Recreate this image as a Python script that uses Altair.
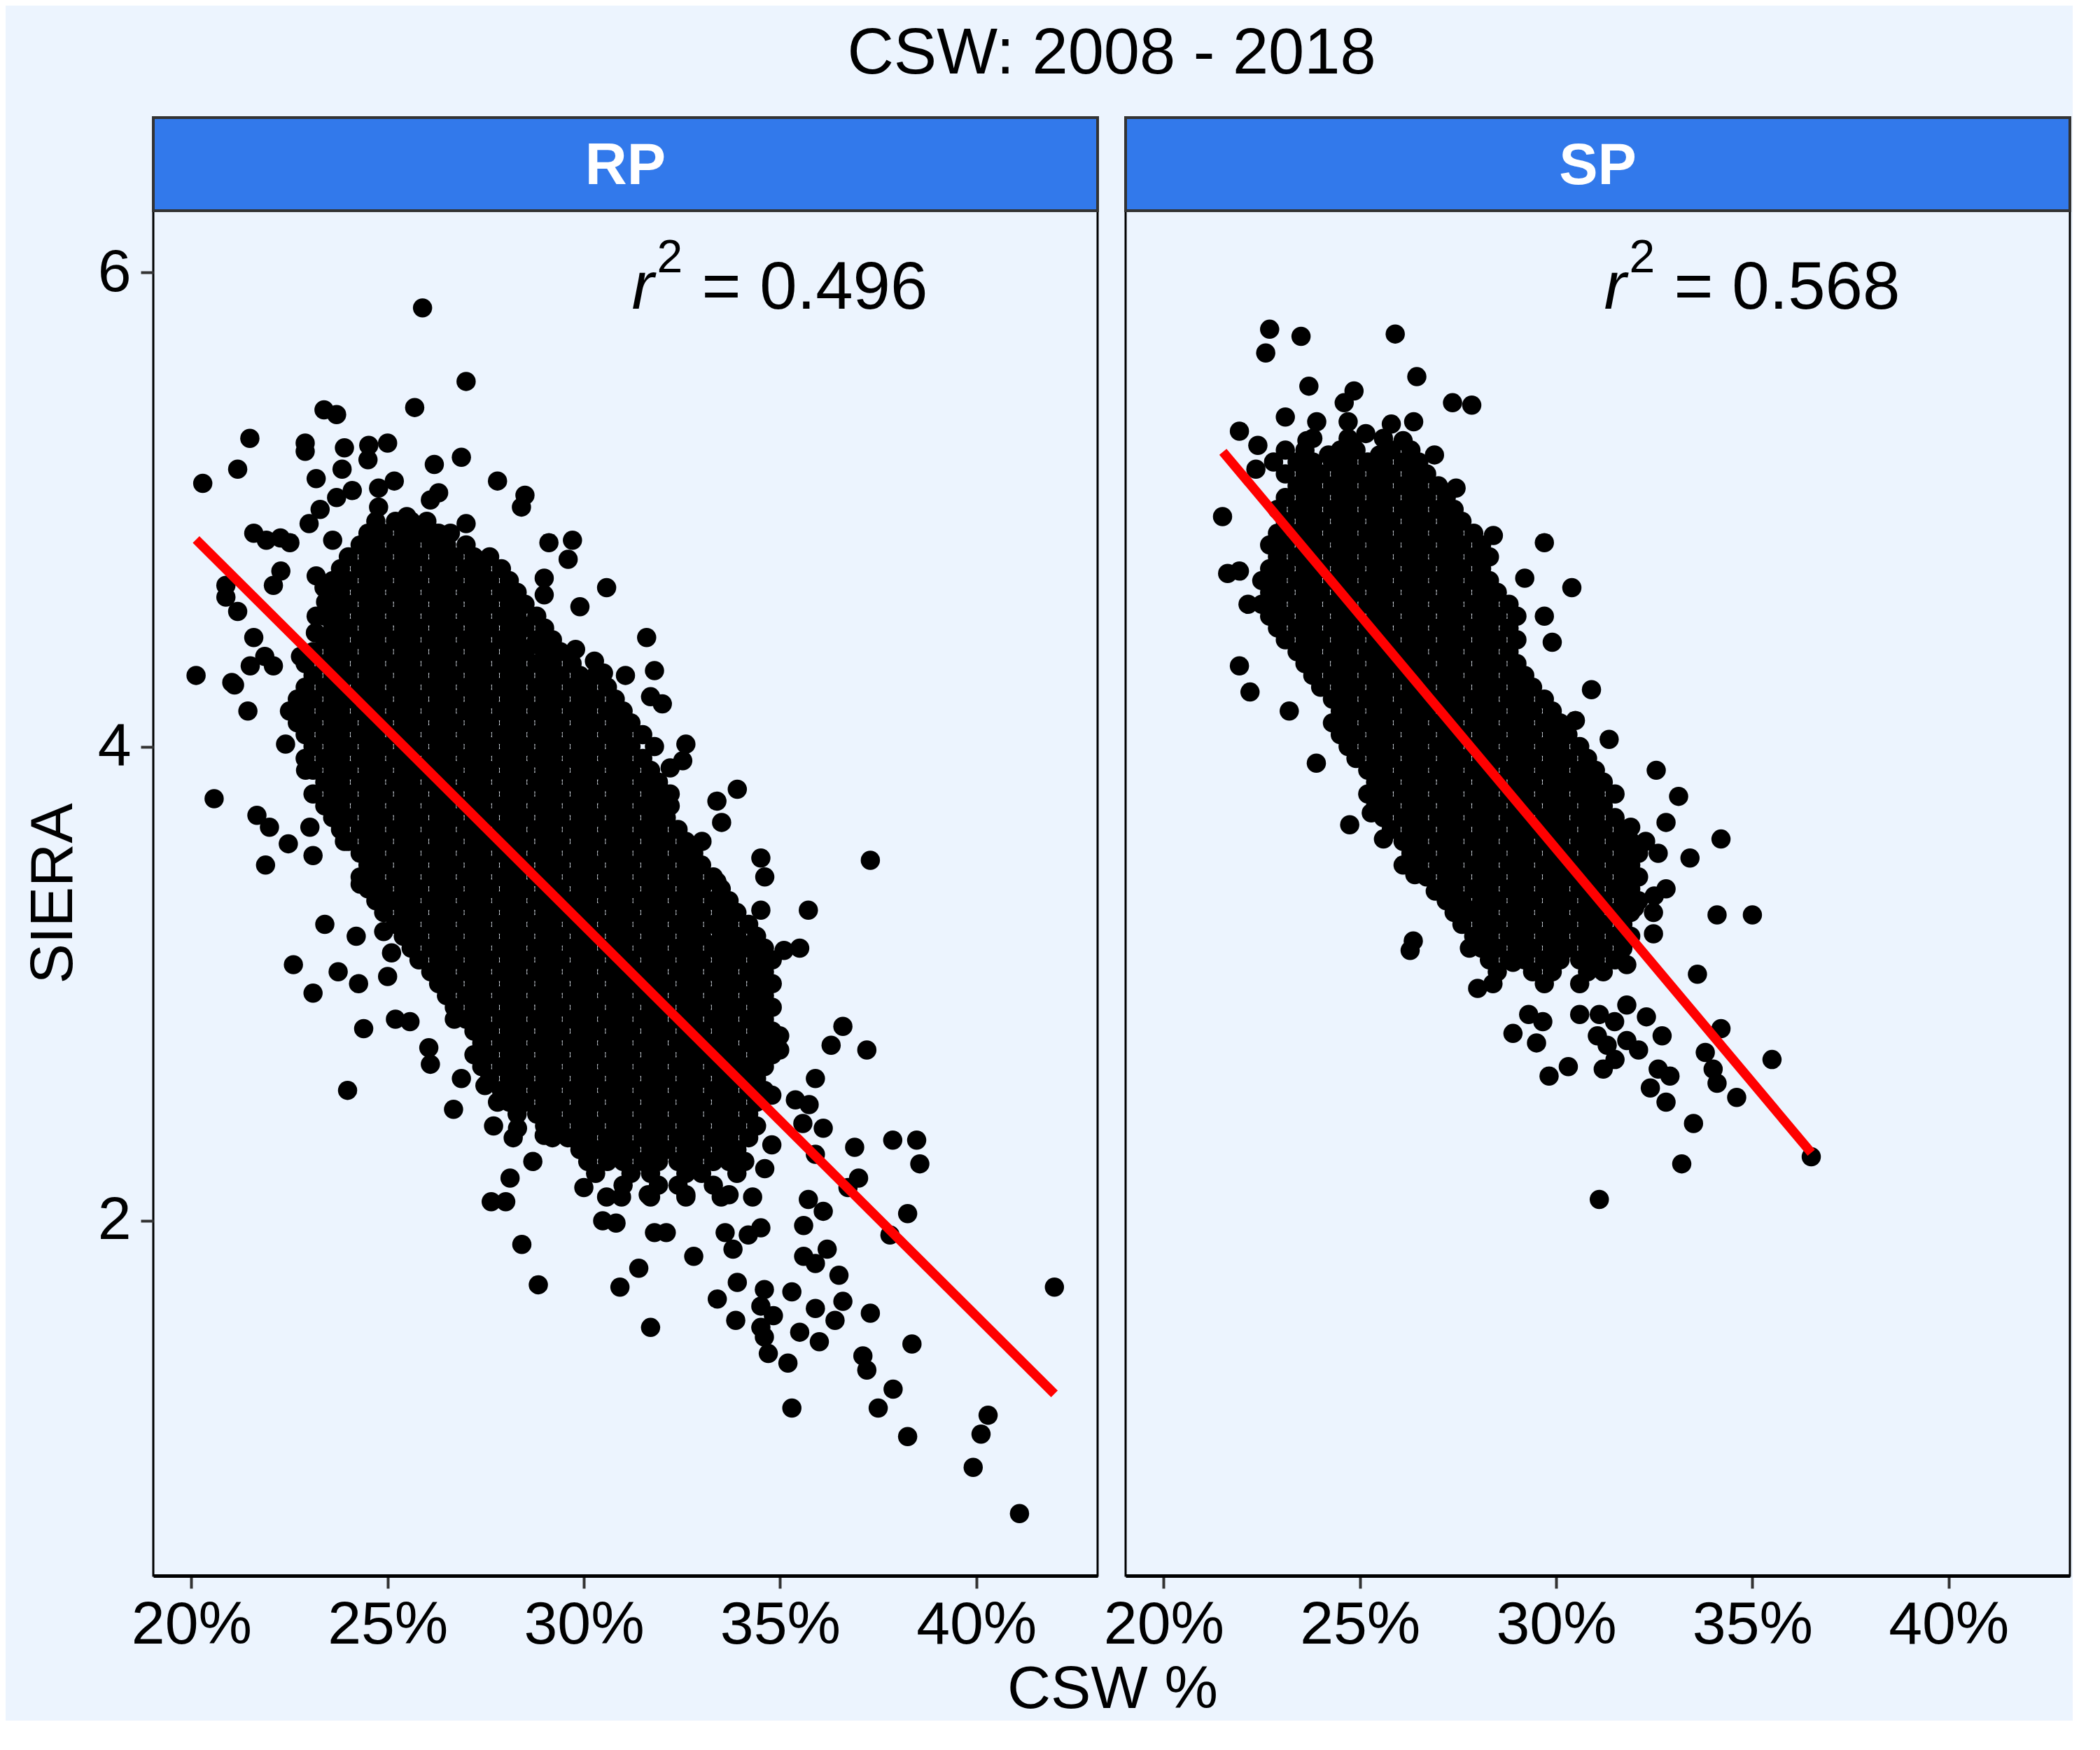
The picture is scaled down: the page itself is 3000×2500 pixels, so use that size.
import altair as alt
import pandas as pd

# ---------------- data ----------------
# RP: isolated / edge points (CSW %, SIERA)
rp_outer = [
    (25.89, 5.85), (27.0, 5.54), (25.69, 5.43), (23.38, 5.42), (23.7, 5.40), (21.49, 5.30),
    (21.18, 5.17), (20.29, 5.11), (22.9, 5.28), (22.9, 5.245), (23.9, 5.26), (24.52, 5.27),
    (25.0, 5.28), (24.5, 5.21), (23.84, 5.17), (23.18, 5.13), (26.19, 5.19), (26.88, 5.22),
    (27.8, 5.12), (28.5, 5.06), (28.41, 5.01), (24.1, 5.08), (23.7, 5.05), (23.28, 5.0),
    (23.0, 4.94), (24.77, 5.09), (25.17, 5.12), (24.77, 5.01), (26.3, 5.07), (26.09, 5.04),
    (25.49, 4.97), (25.71, 4.92), (26.2, 4.90), (27.0, 4.94), (29.11, 4.86), (29.71, 4.87),
    (29.6, 4.79), (21.59, 4.90), (21.91, 4.87), (22.27, 4.88), (22.51, 4.86), (23.6, 4.87),
    (22.28, 4.74), (22.09, 4.68), (20.88, 4.68), (20.88, 4.63), (21.18, 4.57), (21.59, 4.46),
    (28.99, 4.71), (28.99, 4.64), (30.58, 4.67), (29.9, 4.59), (28.3, 4.60), (28.46, 4.51),
    (20.12, 4.30), (21.1, 4.26), (21.5, 4.34), (21.87, 4.38), (22.09, 4.34), (22.78, 4.38),
    (23.18, 4.72), (23.38, 4.67), (23.42, 4.61), (23.18, 4.55), (23.16, 4.48), (31.06, 4.30),
    (30.5, 4.31), (30.27, 4.36), (29.79, 4.41), (29.07, 4.44), (28.75, 4.43), (31.6, 4.46),
    (31.8, 4.32), (31.7, 4.21), (21.03, 4.27), (21.44, 4.15), (22.4, 4.01), (22.91, 3.9),
    (20.58, 3.78), (21.67, 3.71), (21.99, 3.66), (22.47, 3.59), (21.89, 3.50), (23.02, 3.66),
    (23.1, 3.54), (23.9, 3.60), (24.3, 3.42), (24.77, 3.36), (23.4, 3.25), (24.2, 3.20),
    (24.9, 3.22), (23.74, 3.05), (24.26, 3.0), (23.1, 2.96), (25.1, 3.13), (25.0, 3.03),
    (24.39, 2.81), (25.2, 2.85), (25.57, 2.84), (26.05, 2.73), (26.09, 2.66), (26.88, 2.60),
    (26.68, 2.47), (27.48, 2.57), (27.8, 2.50), (23.98, 2.55), (27.7, 2.40), (28.31, 2.39),
    (28.2, 2.35), (28.7, 2.25), (28.99, 2.36), (29.59, 2.35), (28.12, 2.18), (30.5, 2.30),
    (30.0, 2.14), (22.6, 3.08),
    (28.84, 1.73), (28.42, 1.9), (27.64, 2.08), (28.01, 2.08), (30.58, 2.1), (30.96, 2.1),
    (30.48, 2.0), (30.82, 1.99), (30.92, 1.72),
    (32.0, 4.18), (32.6, 4.01), (31.8, 4.0), (32.52, 3.94), (32.2, 3.91), (33.91, 3.82),
    (33.39, 3.77), (33.51, 3.68), (33.01, 3.60), (32.2, 3.80), (34.51, 3.53), (34.61, 3.45),
    (37.3, 3.52), (33.39, 3.43), (34.51, 3.31), (35.72, 3.31), (34.0, 3.17), (33.39, 3.17),
    (35.1, 3.14), (35.5, 3.15), (34.51, 3.06), (34.71, 3.0), (34.57, 2.87), (34.99, 2.78),
    (34.99, 2.72), (34.63, 2.72), (36.6, 2.82), (36.3, 2.74), (37.21, 2.72), (35.9, 2.60),
    (34.1, 2.64), (34.31, 2.61), (34.79, 2.53), (35.39, 2.51), (35.74, 2.49), (35.58, 2.41),
    (36.1, 2.39), (37.87, 2.34), (38.48, 2.34), (38.56, 2.24), (36.9, 2.31), (35.9, 2.28),
    (34.79, 2.32), (34.61, 2.22), (37.0, 2.18),
    (36.73, 2.14), (34.3, 2.10), (33.7, 2.11), (32.6, 2.11), (31.64, 2.11), (38.25, 2.03),
    (35.72, 2.09), (36.1, 2.04), (35.6, 1.98), (37.8, 1.94), (36.2, 1.88), (35.6, 1.85),
    (35.9, 1.82), (36.5, 1.77), (31.8, 1.95), (32.1, 1.95), (33.6, 1.95), (34.19, 1.94),
    (34.51, 1.97), (33.8, 1.88), (32.8, 1.85), (31.4, 1.80), (33.91, 1.74), (34.6, 1.71),
    (33.4, 1.67), (35.3, 1.70), (35.9, 1.63), (36.6, 1.66), (34.51, 1.64), (34.83, 1.60),
    (33.87, 1.58), (34.51, 1.55), (36.4, 1.58), (37.3, 1.61), (35.5, 1.53), (36.0, 1.49),
    (34.6, 1.51), (34.7, 1.44), (35.2, 1.40), (31.7, 1.55), (38.36, 1.48), (37.11, 1.43),
    (37.21, 1.37), (37.88, 1.29), (37.5, 1.21), (35.3, 1.21), (38.25, 1.09), (40.3, 1.18),
    (40.12, 1.10), (39.92, 0.96), (41.1, 0.765), (41.99, 1.72),
]

# RP: the dense core, read row by row (SIERA, [CSW % values along the row])
rp_core = [
    (4.95, [24.7, 25.2, 25.6, 26.0]),
    (4.90, [24.5, 24.9, 25.4, 25.8, 26.3, 26.6]),
    (4.85, [24.3, 24.7, 25.2, 25.6, 26.1, 26.5, 27.0]),
    (4.80, [24.0, 24.5, 24.9, 25.4, 25.8, 26.3, 26.7, 27.2, 27.6]),
    (4.75, [23.8, 24.3, 24.7, 25.2, 25.6, 26.1, 26.5, 27.0, 27.4, 27.9]),
    (4.70, [23.6, 24.0, 24.5, 24.9, 25.4, 25.8, 26.3, 26.7, 27.2, 27.6, 28.1]),
    (4.65, [23.8, 24.3, 24.7, 25.2, 25.6, 26.1, 26.5, 27.0, 27.4, 27.9, 28.3]),
    (4.60, [23.6, 24.0, 24.5, 24.9, 25.4, 25.8, 26.3, 26.7, 27.2, 27.6, 28.1, 28.5]),
    (4.55, [23.4, 23.8, 24.3, 24.7, 25.2, 25.6, 26.1, 26.5, 27.0, 27.4, 27.9, 28.3, 28.8]),
    (4.50, [23.6, 24.0, 24.5, 24.9, 25.4, 25.8, 26.3, 26.7, 27.2, 27.6, 28.1, 28.5, 29.0]),
    (4.45, [23.4, 23.8, 24.3, 24.7, 25.2, 25.6, 26.1, 26.5, 27.0, 27.4, 27.9, 28.3, 28.8, 29.2]),
    (4.40, [23.1, 23.6, 24.0, 24.5, 24.9, 25.4, 25.8, 26.3, 26.7, 27.2, 27.6, 28.1, 28.5, 29.0, 29.4]),
    (4.35, [22.9, 23.4, 23.8, 24.3, 24.7, 25.2, 25.6, 26.1, 26.5, 27.0, 27.4, 27.9, 28.3, 28.8, 29.2, 29.7]),
    (4.30, [23.1, 23.6, 24.0, 24.5, 24.9, 25.4, 25.8, 26.3, 26.7, 27.2, 27.6, 28.1, 28.5, 29.0, 29.4, 29.9, 30.3]),
    (4.25, [22.9, 23.4, 23.8, 24.3, 24.7, 25.2, 25.6, 26.1, 26.5, 27.0, 27.4, 27.9, 28.3, 28.8, 29.2, 29.7, 30.1, 30.6]),
    (4.20, [22.7, 23.1, 23.6, 24.0, 24.5, 24.9, 25.4, 25.8, 26.3, 26.7, 27.2, 27.6, 28.1, 28.5, 29.0, 29.4, 29.9, 30.3, 30.8]),
    (4.15, [22.5, 22.9, 23.4, 23.8, 24.3, 24.7, 25.2, 25.6, 26.1, 26.5, 27.0, 27.4, 27.9, 28.3, 28.8, 29.2, 29.7, 30.1, 30.6, 31.0]),
    (4.10, [22.7, 23.1, 23.6, 24.0, 24.5, 24.9, 25.4, 25.8, 26.3, 26.7, 27.2, 27.6, 28.1, 28.5, 29.0, 29.4, 29.9, 30.3, 30.8, 31.2]),
    (4.05, [22.9, 23.4, 23.8, 24.3, 24.7, 25.2, 25.6, 26.1, 26.5, 27.0, 27.4, 27.9, 28.3, 28.8, 29.2, 29.7, 30.1, 30.6, 31.0, 31.5]),
    (4.00, [23.1, 23.6, 24.0, 24.5, 24.9, 25.4, 25.8, 26.3, 26.7, 27.2, 27.6, 28.1, 28.5, 29.0, 29.4, 29.9, 30.3, 30.8, 31.2]),
    (3.95, [22.9, 23.4, 23.8, 24.3, 24.7, 25.2, 25.6, 26.1, 26.5, 27.0, 27.4, 27.9, 28.3, 28.8, 29.2, 29.7, 30.1, 30.6, 31.0, 31.5]),
    (3.90, [23.1, 23.6, 24.0, 24.5, 24.9, 25.4, 25.8, 26.3, 26.7, 27.2, 27.6, 28.1, 28.5, 29.0, 29.4, 29.9, 30.3, 30.8, 31.2, 31.7]),
    (3.85, [23.4, 23.8, 24.3, 24.7, 25.2, 25.6, 26.1, 26.5, 27.0, 27.4, 27.9, 28.3, 28.8, 29.2, 29.7, 30.1, 30.6, 31.0, 31.5, 31.9]),
    (3.80, [23.1, 23.6, 24.0, 24.5, 24.9, 25.4, 25.8, 26.3, 26.7, 27.2, 27.6, 28.1, 28.5, 29.0, 29.4, 29.9, 30.3, 30.8, 31.2, 31.7, 32.1]),
    (3.75, [23.4, 23.8, 24.3, 24.7, 25.2, 25.6, 26.1, 26.5, 27.0, 27.4, 27.9, 28.3, 28.8, 29.2, 29.7, 30.1, 30.6, 31.0, 31.5, 31.9, 32.2]),
    (3.70, [23.6, 24.0, 24.5, 24.9, 25.4, 25.8, 26.3, 26.7, 27.2, 27.6, 28.1, 28.5, 29.0, 29.4, 29.9, 30.3, 30.8, 31.2, 31.7, 32.1]),
    (3.65, [23.8, 24.3, 24.7, 25.2, 25.6, 26.1, 26.5, 27.0, 27.4, 27.9, 28.3, 28.8, 29.2, 29.7, 30.1, 30.6, 31.0, 31.5, 31.9, 32.4]),
    (3.60, [24.0, 24.5, 24.9, 25.4, 25.8, 26.3, 26.7, 27.2, 27.6, 28.1, 28.5, 29.0, 29.4, 29.9, 30.3, 30.8, 31.2, 31.7, 32.1, 32.6]),
    (3.55, [24.3, 24.7, 25.2, 25.6, 26.1, 26.5, 27.0, 27.4, 27.9, 28.3, 28.8, 29.2, 29.7, 30.1, 30.6, 31.0, 31.5, 31.9, 32.4, 32.8]),
    (3.50, [24.5, 24.9, 25.4, 25.8, 26.3, 26.7, 27.2, 27.6, 28.1, 28.5, 29.0, 29.4, 29.9, 30.3, 30.8, 31.2, 31.7, 32.1, 32.6, 33.0]),
    (3.45, [24.3, 24.7, 25.2, 25.6, 26.1, 26.5, 27.0, 27.4, 27.9, 28.3, 28.8, 29.2, 29.7, 30.1, 30.6, 31.0, 31.5, 31.9, 32.4, 32.8, 33.3]),
    (3.40, [24.5, 24.9, 25.4, 25.8, 26.3, 26.7, 27.2, 27.6, 28.1, 28.5, 29.0, 29.4, 29.9, 30.3, 30.8, 31.2, 31.7, 32.1, 32.6, 33.0, 33.5]),
    (3.35, [24.7, 25.2, 25.6, 26.1, 26.5, 27.0, 27.4, 27.9, 28.3, 28.8, 29.2, 29.7, 30.1, 30.6, 31.0, 31.5, 31.9, 32.4, 32.8, 33.3, 33.7]),
    (3.30, [24.9, 25.4, 25.8, 26.3, 26.7, 27.2, 27.6, 28.1, 28.5, 29.0, 29.4, 29.9, 30.3, 30.8, 31.2, 31.7, 32.1, 32.6, 33.0, 33.5, 33.9]),
    (3.25, [25.2, 25.6, 26.1, 26.5, 27.0, 27.4, 27.9, 28.3, 28.8, 29.2, 29.7, 30.1, 30.6, 31.0, 31.5, 31.9, 32.4, 32.8, 33.3, 33.7, 34.2]),
    (3.20, [25.4, 25.8, 26.3, 26.7, 27.2, 27.6, 28.1, 28.5, 29.0, 29.4, 29.9, 30.3, 30.8, 31.2, 31.7, 32.1, 32.6, 33.0, 33.5, 33.9, 34.4]),
    (3.15, [25.6, 26.1, 26.5, 27.0, 27.4, 27.9, 28.3, 28.8, 29.2, 29.7, 30.1, 30.6, 31.0, 31.5, 31.9, 32.4, 32.8, 33.3, 33.7, 34.2, 34.6]),
    (3.10, [25.8, 26.3, 26.7, 27.2, 27.6, 28.1, 28.5, 29.0, 29.4, 29.9, 30.3, 30.8, 31.2, 31.7, 32.1, 32.6, 33.0, 33.5, 33.9, 34.4, 34.8]),
    (3.05, [26.1, 26.5, 27.0, 27.4, 27.9, 28.3, 28.8, 29.2, 29.7, 30.1, 30.6, 31.0, 31.5, 31.9, 32.4, 32.8, 33.3, 33.7, 34.2, 34.6]),
    (3.00, [26.3, 26.7, 27.2, 27.6, 28.1, 28.5, 29.0, 29.4, 29.9, 30.3, 30.8, 31.2, 31.7, 32.1, 32.6, 33.0, 33.5, 33.9, 34.4, 34.8]),
    (2.95, [26.5, 27.0, 27.4, 27.9, 28.3, 28.8, 29.2, 29.7, 30.1, 30.6, 31.0, 31.5, 31.9, 32.4, 32.8, 33.3, 33.7, 34.2, 34.6]),
    (2.90, [26.7, 27.2, 27.6, 28.1, 28.5, 29.0, 29.4, 29.9, 30.3, 30.8, 31.2, 31.7, 32.1, 32.6, 33.0, 33.5, 33.9, 34.4, 34.8]),
    (2.85, [26.7, 27.0, 27.4, 27.9, 28.3, 28.8, 29.2, 29.7, 30.1, 30.6, 31.0, 31.5, 31.9, 32.4, 32.8, 33.3, 33.7, 34.2, 34.6]),
    (2.80, [27.2, 27.6, 28.1, 28.5, 29.0, 29.4, 29.9, 30.3, 30.8, 31.2, 31.7, 32.1, 32.6, 33.0, 33.5, 33.9, 34.4, 34.8]),
    (2.75, [27.4, 27.9, 28.3, 28.8, 29.2, 29.7, 30.1, 30.6, 31.0, 31.5, 31.9, 32.4, 32.8, 33.3, 33.7, 34.2, 34.6]),
    (2.70, [27.2, 27.6, 28.1, 28.5, 29.0, 29.4, 29.9, 30.3, 30.8, 31.2, 31.7, 32.1, 32.6, 33.0, 33.5, 33.9, 34.4, 34.8]),
    (2.65, [27.4, 27.9, 28.3, 28.8, 29.2, 29.7, 30.1, 30.6, 31.0, 31.5, 31.9, 32.4, 32.8, 33.3, 33.7, 34.2, 34.6]),
    (2.60, [27.6, 28.1, 28.5, 29.0, 29.4, 29.9, 30.3, 30.8, 31.2, 31.7, 32.1, 32.6, 33.0, 33.5, 33.9, 34.4]),
    (2.55, [27.9, 28.3, 28.8, 29.2, 29.7, 30.1, 30.6, 31.0, 31.5, 31.9, 32.4, 32.8, 33.3, 33.7, 34.2, 34.6]),
    (2.50, [28.1, 28.5, 29.0, 29.4, 29.9, 30.3, 30.8, 31.2, 31.7, 32.1, 32.6, 33.0, 33.5, 33.9, 34.4]),
    (2.45, [28.3, 28.8, 29.2, 29.7, 30.1, 30.6, 31.0, 31.5, 31.9, 32.4, 32.8, 33.3, 33.7, 34.2]),
    (2.40, [29.0, 29.4, 29.9, 30.3, 30.8, 31.2, 31.7, 32.1, 32.6, 33.0, 33.5, 33.9, 34.4]),
    (2.35, [29.2, 29.7, 30.1, 30.6, 31.0, 31.5, 31.9, 32.4, 32.8, 33.3, 33.7, 34.2]),
    (2.30, [29.9, 30.3, 30.8, 31.2, 31.7, 32.1, 32.6, 33.0, 33.5, 33.9]),
    (2.25, [30.1, 30.6, 31.0, 31.5, 31.9, 32.4, 32.8, 33.3, 33.7, 34.1]),
    (2.20, [30.3, 31.2, 31.7, 32.6, 33.0, 33.9]),
    (2.15, [31.0, 31.9, 32.4, 33.3]),
    (2.10, [31.7, 32.6, 33.5]),
]

# SP: isolated / edge points
sp_outer = [
    (21.93, 5.33), (22.4, 5.27), (22.8, 5.2), (22.35, 5.17), (23.1, 5.39), (23.65, 5.29),
    (23.9, 5.37), (23.7, 5.52), (24.85, 5.5), (24.6, 5.45), (24.7, 5.37), (25.15, 5.32),
    (24.8, 5.28), (25.8, 5.36), (26.1, 5.29), (26.37, 5.37), (26.45, 5.56), (27.36, 5.45),
    (27.85, 5.44), (25.9, 5.74), (23.5, 5.73), (22.7, 5.76), (22.6, 5.66), (24.2, 5.23),
    (25.5, 5.23), (26.9, 5.23), (26.35, 5.17), (27.45, 5.09), (21.5, 4.97), (21.93, 4.74),
    (21.63, 4.73), (22.15, 4.60), (21.93, 4.34), (22.2, 4.23), (23.2, 4.15), (28.4, 4.89),
    (29.7, 4.86), (29.2, 4.71), (30.4, 4.67), (29.7, 4.55), (29.9, 4.44), (30.9, 4.24),
    (31.35, 4.03), (32.55, 3.9), (23.89, 3.93), (24.74, 3.67),
    (33.12, 3.79), (32.8, 3.68), (34.2, 3.61), (33.41, 3.53), (31.9, 3.66), (32.28, 3.60),
    (32.6, 3.55), (32.8, 3.40), (32.5, 3.37), (32.0, 3.32), (32.48, 3.30), (32.48, 3.21),
    (34.1, 3.29), (35.0, 3.29), (26.36, 3.18), (26.28, 3.14), (28.0, 2.98), (28.39, 3.0),
    (27.79, 3.15), (28.38, 3.15), (31.8, 3.08), (33.6, 3.04), (31.8, 2.91), (32.3, 2.86),
    (34.2, 2.81), (28.9, 2.79), (29.5, 2.75), (31.05, 2.78), (31.3, 2.74), (31.8, 2.76),
    (32.7, 2.78), (32.1, 2.72), (31.5, 2.68), (31.2, 2.64), (33.8, 2.71), (34.0, 2.64),
    (34.1, 2.58), (32.6, 2.64), (32.9, 2.61), (32.4, 2.56), (32.8, 2.50), (29.82, 2.61),
    (30.31, 2.65), (34.6, 2.52), (35.5, 2.68), (33.5, 2.41), (33.2, 2.24), (31.1, 2.09),
    (36.5, 2.27), (25.48, 3.91), (25.29, 3.72), (25.6, 3.61), (26.4, 3.46), (26.92, 3.39),
    (27.4, 3.34), (27.79, 3.31), (28.9, 3.09), (29.3, 2.87), (29.66, 2.84), (30.6, 2.87),
    (31.1, 2.87), (31.49, 2.84), (30.49, 4.11), (30.69, 3.86),
]

# SP: the dense core, row by row
sp_core = [
    (5.30, [23.8, 24.7, 25.6]),
    (5.25, [23.1, 23.6, 24.5, 24.9, 25.8, 26.3]),
    (5.20, [23.4, 23.8, 24.3, 24.7, 25.2, 25.6, 26.1, 26.5]),
    (5.15, [23.1, 23.6, 24.0, 24.5, 24.9, 25.4, 25.8, 26.3, 26.7]),
    (5.10, [23.4, 23.8, 24.3, 24.7, 25.2, 25.6, 26.1, 26.5, 27.0]),
    (5.05, [23.1, 23.6, 24.0, 24.5, 24.9, 25.4, 25.8, 26.3, 26.7, 27.2]),
    (5.00, [22.9, 23.4, 23.8, 24.3, 24.7, 25.2, 25.6, 26.1, 26.5, 27.0, 27.4]),
    (4.95, [23.1, 23.6, 24.0, 24.5, 24.9, 25.4, 25.8, 26.3, 26.7, 27.2, 27.6]),
    (4.90, [22.9, 23.4, 23.8, 24.3, 24.7, 25.2, 25.6, 26.1, 26.5, 27.0, 27.4, 27.9]),
    (4.85, [22.7, 23.1, 23.6, 24.0, 24.5, 24.9, 25.4, 25.8, 26.3, 26.7, 27.2, 27.6, 28.1]),
    (4.80, [22.9, 23.4, 23.8, 24.3, 24.7, 25.2, 25.6, 26.1, 26.5, 27.0, 27.4, 27.9, 28.3]),
    (4.75, [22.7, 23.1, 23.6, 24.0, 24.5, 24.9, 25.4, 25.8, 26.3, 26.7, 27.2, 27.6, 28.1]),
    (4.70, [22.5, 22.9, 23.4, 23.8, 24.3, 24.7, 25.2, 25.6, 26.1, 26.5, 27.0, 27.4, 27.9, 28.3]),
    (4.65, [22.7, 23.1, 23.6, 24.0, 24.5, 24.9, 25.4, 25.8, 26.3, 26.7, 27.2, 27.6, 28.1, 28.5]),
    (4.60, [22.5, 22.9, 23.4, 23.8, 24.3, 24.7, 25.2, 25.6, 26.1, 26.5, 27.0, 27.4, 27.9, 28.3, 28.8]),
    (4.55, [22.7, 23.1, 23.6, 24.0, 24.5, 24.9, 25.4, 25.8, 26.3, 26.7, 27.2, 27.6, 28.1, 28.5, 29.0]),
    (4.50, [22.9, 23.4, 23.8, 24.3, 24.7, 25.2, 25.6, 26.1, 26.5, 27.0, 27.4, 27.9, 28.3, 28.8]),
    (4.45, [23.1, 23.6, 24.0, 24.5, 24.9, 25.4, 25.8, 26.3, 26.7, 27.2, 27.6, 28.1, 28.5, 29.0]),
    (4.40, [23.4, 23.8, 24.3, 24.7, 25.2, 25.6, 26.1, 26.5, 27.0, 27.4, 27.9, 28.3, 28.8]),
    (4.35, [23.6, 24.0, 24.5, 24.9, 25.4, 25.8, 26.3, 26.7, 27.2, 27.6, 28.1, 28.5, 29.0]),
    (4.30, [23.8, 24.3, 24.7, 25.2, 25.6, 26.1, 26.5, 27.0, 27.4, 27.9, 28.3, 28.8, 29.2]),
    (4.25, [24.0, 24.5, 24.9, 25.4, 25.8, 26.3, 26.7, 27.2, 27.6, 28.1, 28.5, 29.0, 29.4]),
    (4.20, [24.3, 24.7, 25.2, 25.6, 26.1, 26.5, 27.0, 27.4, 27.9, 28.3, 28.8, 29.2, 29.7]),
    (4.15, [24.5, 24.9, 25.4, 25.8, 26.3, 26.7, 27.2, 27.6, 28.1, 28.5, 29.0, 29.4, 29.9]),
    (4.10, [24.3, 24.7, 25.2, 25.6, 26.1, 26.5, 27.0, 27.4, 27.9, 28.3, 28.8, 29.2, 29.7, 30.1]),
    (4.05, [24.5, 24.9, 25.4, 25.8, 26.3, 26.7, 27.2, 27.6, 28.1, 28.5, 29.0, 29.4, 29.9, 30.3]),
    (4.00, [24.7, 25.2, 25.6, 26.1, 26.5, 27.0, 27.4, 27.9, 28.3, 28.8, 29.2, 29.7, 30.1, 30.6]),
    (3.95, [24.9, 25.4, 25.8, 26.3, 26.7, 27.2, 27.6, 28.1, 28.5, 29.0, 29.4, 29.9, 30.3, 30.8]),
    (3.90, [25.2, 25.6, 26.1, 26.5, 27.0, 27.4, 27.9, 28.3, 28.8, 29.2, 29.7, 30.1, 30.6, 31.0]),
    (3.85, [25.4, 25.8, 26.3, 26.7, 27.2, 27.6, 28.1, 28.5, 29.0, 29.4, 29.9, 30.3, 30.8, 31.2]),
    (3.80, [25.2, 25.6, 26.1, 26.5, 27.0, 27.4, 27.9, 28.3, 28.8, 29.2, 29.7, 30.1, 30.6, 31.0, 31.5]),
    (3.75, [25.4, 25.8, 26.3, 26.7, 27.2, 27.6, 28.1, 28.5, 29.0, 29.4, 29.9, 30.3, 30.8, 31.2]),
    (3.70, [25.6, 26.1, 26.5, 27.0, 27.4, 27.9, 28.3, 28.8, 29.2, 29.7, 30.1, 30.6, 31.0, 31.5]),
    (3.65, [25.8, 26.3, 26.7, 27.2, 27.6, 28.1, 28.5, 29.0, 29.4, 29.9, 30.3, 30.8, 31.2, 31.7]),
    (3.60, [26.1, 26.5, 27.0, 27.4, 27.9, 28.3, 28.8, 29.2, 29.7, 30.1, 30.6, 31.0, 31.5, 31.9]),
    (3.55, [26.3, 26.7, 27.2, 27.6, 28.1, 28.5, 29.0, 29.4, 29.9, 30.3, 30.8, 31.2, 31.7, 32.1]),
    (3.50, [26.1, 26.5, 27.0, 27.4, 27.9, 28.3, 28.8, 29.2, 29.7, 30.1, 30.6, 31.0, 31.5, 31.9]),
    (3.45, [26.7, 27.2, 27.6, 28.1, 28.5, 29.0, 29.4, 29.9, 30.3, 30.8, 31.2, 31.7, 32.1]),
    (3.40, [27.0, 27.4, 27.9, 28.3, 28.8, 29.2, 29.7, 30.1, 30.6, 31.0, 31.5, 31.9]),
    (3.35, [27.2, 27.6, 28.1, 28.5, 29.0, 29.4, 29.9, 30.3, 30.8, 31.2, 31.7, 32.1]),
    (3.30, [27.4, 27.9, 28.3, 28.8, 29.2, 29.7, 30.1, 30.6, 31.0, 31.5, 31.9]),
    (3.25, [27.6, 28.1, 28.5, 29.0, 29.4, 29.9, 30.3, 30.8, 31.2, 31.7]),
    (3.20, [27.9, 28.3, 28.8, 29.2, 29.7, 30.1, 30.6, 31.0, 31.5, 31.9]),
    (3.15, [28.1, 28.5, 29.0, 29.4, 29.9, 30.3, 30.8, 31.2, 31.7]),
    (3.10, [28.3, 28.8, 29.2, 29.7, 30.1, 30.6, 31.0, 31.5]),
    (3.05, [28.5, 29.4, 29.9, 30.8, 31.2]),
    (3.00, [29.7, 30.6]),
]

# fitted lines (end points)
rp_fit_csw = [20.12, 41.99]
rp_fit_siera = [4.873, 1.27]
sp_fit_csw = [21.51, 36.50]
sp_fit_siera = [5.243, 2.287]

panels = ["RP", "SP"]
r2_values = ["0.496", "0.568"]
ann_csw = 35.0
ann_siera = 6.0
x_ticks = [20, 25, 30, 35, 40]
y_ticks = [2, 4, 6]

# ---------------- styling ----------------
FONT = "Liberation Sans"
BG = "#ECF4FE"
STRIP = "#3279EB"
W, H, SH = 1349, 1950, 133


def to_frame(outer, rows):
    pts = list(outer)
    for y, xs in rows:
        pts.extend((x, y) for x in xs)
    return pd.DataFrame(pts, columns=["csw", "siera"])


xscale = alt.Scale(domain=[19.03, 43.09], nice=False, zero=False)
yscale = alt.Scale(domain=[0.503, 6.26], nice=False, zero=False)


def make_panel(name, df, fit_x, fit_y, r2, first):
    x_axis = alt.Axis(
        values=x_ticks, labelExpr="datum.value + '%'", labelFont=FONT, labelFontSize=86,
        labelColor="black", labelPadding=10, labelFlush=False, labelOverlap=False,
        tickSize=18, tickWidth=4, tickColor="#333333", domainColor="black", domainWidth=5,
        grid=False, titleFont=FONT, titleFontSize=86, titleFontWeight="normal",
        titleColor="black", titleX=1370, titleY=188, titleBaseline="alphabetic",
        titleAlign="center",
    )
    x_enc = alt.X("csw:Q", scale=xscale, axis=x_axis, title="CSW %" if first else "")
    if first:
        y_axis = alt.Axis(
            values=y_ticks, labelFont=FONT, labelFontSize=86, labelColor="black",
            labelPadding=14, tickSize=18, tickWidth=4, tickColor="#333333", domain=False,
            grid=False, titleFont=FONT, titleFontSize=86, titleFontWeight="normal",
            titleColor="black", titleX=-117, titleY=H / 2, titleBaseline="alphabetic",
            titleAlign="center", titleAngle=270,
        )
        y_enc = alt.Y("siera:Q", scale=yscale, axis=y_axis, title="SIERA")
    else:
        y_enc = alt.Y("siera:Q", scale=yscale, axis=None)

    lab = pd.DataFrame({"label": [name]})
    strip_rect = alt.Chart(lab).mark_rect(fill=STRIP, stroke="#333333", strokeWidth=4).encode(
        x=alt.value(0), x2=alt.value(W), y=alt.value(-SH), y2=alt.value(0)
    )
    strip_text = alt.Chart(lab).mark_text(
        font=FONT, fontSize=83, fontWeight="bold", color="white", align="center",
        baseline="alphabetic", dy=28,
    ).encode(x=alt.value(W / 2), y=alt.value(-SH / 2), text="label:N")

    pts = alt.Chart(df).mark_circle(size=756, color="black", opacity=1).encode(x=x_enc, y=y_enc)
    fit = alt.Chart(pd.DataFrame({"csw": fit_x, "siera": fit_y})).mark_line(
        color="#FF0000", strokeWidth=13.5
    ).encode(x=x_enc, y=y_enc)

    ann = pd.DataFrame({"csw": [ann_csw], "siera": [ann_siera], "r": ["r"], "sup": ["2"],
                        "val": ["= " + r2]})
    ann_r = alt.Chart(ann).mark_text(
        font=FONT, fontSize=96, fontStyle="italic", color="black", align="left",
        baseline="alphabetic", dx=-212, dy=52,
    ).encode(x=x_enc, y=y_enc, text="r:N")
    ann_sup = alt.Chart(ann).mark_text(
        font=FONT, fontSize=66, color="black", align="left", baseline="alphabetic", dx=-176, dy=0,
    ).encode(x=x_enc, y=y_enc, text="sup:N")
    ann_val = alt.Chart(ann).mark_text(
        font=FONT, fontSize=96, color="black", align="left", baseline="alphabetic", dx=-112, dy=52,
    ).encode(x=x_enc, y=y_enc, text="val:N")

    return alt.layer(strip_rect, strip_text, pts, fit, ann_r, ann_sup, ann_val).properties(
        width=W, height=H
    )


rp_df = to_frame(rp_outer, rp_core)
sp_df = to_frame(sp_outer, sp_core)

left = make_panel(panels[0], rp_df, rp_fit_csw, rp_fit_siera, r2_values[0], True)
right = make_panel(panels[1], sp_df, sp_fit_csw, sp_fit_siera, r2_values[1], False)

chart = alt.hconcat(left, right, spacing=40, bounds="flush").properties(
    title=alt.Title("CSW: 2008 - 2018", font=FONT, fontSize=92, fontWeight="normal",
                    color="black", anchor="middle", frame="bounds", dx=92, offset=41),
    background=BG,
    padding={"left": 23, "top": 22, "right": 0, "bottom": 0},
).configure_view(stroke="black", strokeWidth=3)

chart.save("out.html", embed_options={"renderer": "svg", "actions": False})
